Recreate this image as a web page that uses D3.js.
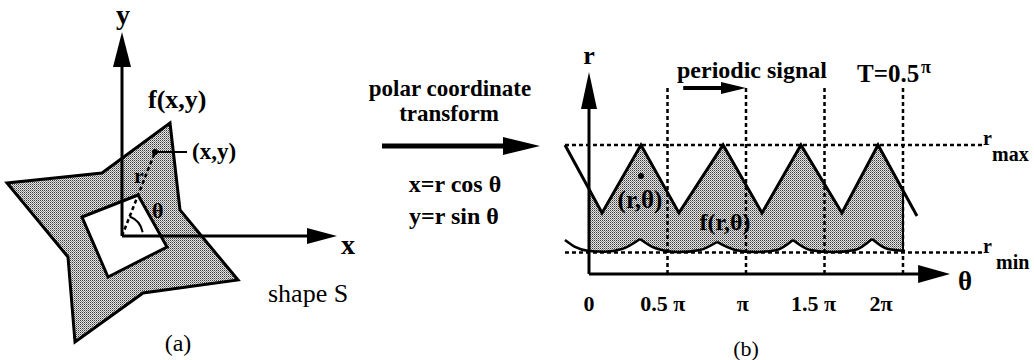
<!DOCTYPE html>
<html><head><meta charset="utf-8">
<script src="https://cdn.jsdelivr.net/npm/d3@7"></script>
<style>
html,body{margin:0;padding:0;background:#fff;}
svg{display:block;font-family:"Liberation Serif","Times New Roman",serif;}
</style>
</head><body>
<svg id="c" width="1034" height="360"></svg>
<script>
// ---------- Panel (a) data: shape S in its own x/y units (origin = centre) ----------
const starX = [48, 58, 116, 21, -47, -54, -115, -20];
const starY = [113, 26, -44, -57, -106, -21, 53, 63];
const holeX = [-40, 16, 45, -14];
const holeY = [19, 41, -11, -41];
const pointX = [33];
const pointY = [84];

// ---------- Panel (b) data: theta in units of pi, r in arbitrary units ----------
const thetaTicks = [0, 0.5, 1, 1.5, 2];
const thetaTickLabels = ["0", "0.5 π", "π", "1.5 π", "2π"];
const thetaLabelAt = [0, 0.47, 0.98, 1.43, 1.86];
const rLevels = [1, 6];               // r_min, r_max
const rLevelNames = ["min", "max"];
const waveTheta = [-0.153, 0.083, 0.331, 0.573, 0.854, 1.102, 1.350, 1.611, 1.841, 2.089];
const waveR     = [6, 2.84, 6, 2.84, 6, 2.84, 6, 2.84, 6, 2.7];
const lowTheta = [-0.153, -0.089, 0, 0.102, 0.21, 0.325, 0.42, 0.567, 0.707, 0.815, 0.93, 1.057, 1.197, 1.299, 1.408, 1.548, 1.694, 1.803, 1.904, 2.013];
const lowR     = [1.58, 1.26, 1.07, 1.04, 1.16, 1.63, 1.21, 1.02, 1.12, 1.49, 1.12, 1.02, 1.12, 1.58, 1.12, 1.02, 1.12, 1.63, 1.16, 1.07];
const samplePoint = [0.331, 4.56];    // (theta, r) of the marked sample

const svg = d3.select("#c");
const INK = "#000";
const defs = svg.append("defs");
// stipple (halftone) fill
const pat = defs.append("pattern").attr("id", "stip").attr("patternUnits", "userSpaceOnUse")
  .attr("width", 2).attr("height", 2);
pat.append("rect").attr("width", 2).attr("height", 2).attr("fill", "#e6e6e6");
pat.append("rect").attr("x", 0).attr("y", 0).attr("width", 1).attr("height", 1).attr("fill", "#3a3a3a");
pat.append("rect").attr("x", 1).attr("y", 1).attr("width", 1).attr("height", 1).attr("fill", "#8a8a8a");
const FILL = "url(#stip)";

function arrowHead(g, tipX, tipY, dirX, dirY, len, half) {
  const bx = tipX - dirX * len, by = tipY - dirY * len;
  const px = -dirY, py = dirX;
  g.append("path")
    .attr("d", `M${tipX},${tipY}L${bx + px * half},${by + py * half}L${bx - px * half},${by - py * half}Z`)
    .attr("fill", INK);
}
function arrow(g, x1, y1, x2, y2, w, len, half) {
  const L = Math.hypot(x2 - x1, y2 - y1), dx = (x2 - x1) / L, dy = (y2 - y1) / L;
  g.append("line").attr("x1", x1).attr("y1", y1)
    .attr("x2", x2 - dx * (len - 2)).attr("y2", y2 - dy * (len - 2))
    .attr("stroke", INK).attr("stroke-width", w);
  arrowHead(g, x2, y2, dx, dy, len, half);
}
function txt(g, x, y, s, size, weight, anchor) {
  return g.append("text").attr("x", x).attr("y", y).text(s)
    .attr("font-size", size).attr("font-weight", weight || "bold")
    .attr("text-anchor", anchor || "start").attr("fill", INK);
}

// ================= Panel (a) =================
const xA = d3.scaleLinear().domain([-120, 215]).range([2, 337]);
const yA = d3.scaleLinear().domain([-110, 204]).range([346, 32]);
const gA = svg.append("g");
const lineA = d3.line().x(d => xA(d[0])).y(d => yA(d[1]));

gA.append("path").attr("d", lineA(starX.map((v, i) => [v, starY[i]])) + "Z")
  .attr("fill", FILL).attr("stroke", INK).attr("stroke-width", 3).attr("stroke-linejoin", "miter");
gA.append("path").attr("d", lineA(holeX.map((v, i) => [v, holeY[i]])) + "Z")
  .attr("fill", "#fff").attr("stroke", INK).attr("stroke-width", 3);

// r line and angle arc
const pAng = Math.atan2(pointY[0], pointX[0]);
gA.append("line").attr("x1", xA(0)).attr("y1", yA(0)).attr("x2", xA(pointX[0])).attr("y2", yA(pointY[0]))
  .attr("stroke", INK).attr("stroke-width", 2.5).attr("stroke-dasharray", "4,3");
const arcR = xA(21) - xA(0);
const arc = d3.arc().innerRadius(arcR).outerRadius(arcR)
  .startAngle(Math.PI / 2 - pAng).endAngle(Math.PI / 2 - 0.18);
gA.append("path").attr("d", arc()).attr("transform", `translate(${xA(0)},${yA(0)})`)
  .attr("fill", "none").attr("stroke", INK).attr("stroke-width", 2);
gA.append("circle").attr("cx", xA(pointX[0])).attr("cy", yA(pointY[0])).attr("r", 3).attr("fill", INK);
gA.append("line").attr("x1", xA(pointX[0])).attr("y1", yA(pointY[0]))
  .attr("x2", xA(pointX[0]) + 32).attr("y2", yA(pointY[0]))
  .attr("stroke", INK).attr("stroke-width", 2);

// axes
arrow(gA, xA(0), yA(0), xA(0), yA(204), 3, 35, 9);
arrow(gA, xA(0), yA(0), xA(215), yA(0), 3, 30, 8);

txt(gA, xA(0) + 1, 24, "y", 28, "bold", "middle");
txt(gA, xA(215) + 4, yA(0) + 18, "x", 28, "bold");
txt(gA, 148, 108, "f(x,y)", 26);
txt(gA, xA(pointX[0]) + 37, yA(pointY[0]) + 7, "(x,y)", 23);
txt(gA, 134, 183, "r", 22);
txt(gA, 152, 218, "θ", 22);
txt(gA, 268, 302, "shape S", 26, "normal");
txt(gA, 178, 351, "(a)", 24, "normal", "middle");

// ================= Middle =================
const gM = svg.append("g");
txt(gM, 450, 96, "polar coordinate", 23, "bold", "middle");
txt(gM, 449, 121, "transform", 23, "bold", "middle");
arrow(gM, 382, 146, 540, 146, 5, 37, 9);
txt(gM, 455, 192, "x=r cos θ", 24, "bold", "middle");
txt(gM, 454, 224, "y=r sin θ", 24, "bold", "middle");

// ================= Panel (b) =================
const xB = d3.scaleLinear().domain([0, 2]).range([589, 903]);
const yB = d3.scaleLinear().domain([0, 6]).range([274, 145]);
const gB = svg.append("g");

const wavePts = waveTheta.map((t, i) => [t, waveR[i]]);
const areaUnderWave = d3.area().x(d => xB(d[0])).y0(yB(0)).y1(d => yB(d[1]));
defs.append("clipPath").attr("id", "underWave").append("path").attr("d", areaUnderWave(wavePts));

// shaded region between wave and lower curve for 0..2pi
gB.append("rect").attr("x", xB(0)).attr("y", yB(rLevels[1]) - 2)
  .attr("width", xB(2) - xB(0)).attr("height", yB(0) - yB(rLevels[1]) + 2)
  .attr("fill", FILL).attr("clip-path", "url(#underWave)");

// split lower curve into scallops at its cusps
const lowPts = lowTheta.map((t, i) => [t, lowR[i]]);
const segs = [];
let cur = [lowPts[0]];
for (let i = 1; i < lowPts.length; i++) {
  cur.push(lowPts[i]);
  const isCusp = i < lowPts.length - 1 && lowPts[i][1] > lowPts[i - 1][1] && lowPts[i][1] > lowPts[i + 1][1];
  if (isCusp) { segs.push(cur); cur = [lowPts[i]]; }
}
segs.push(cur);
const lowArea = d3.area().curve(d3.curveMonotoneX).x(d => xB(d[0])).y0(yB(0)).y1(d => yB(d[1]));
const lowLine = d3.line().curve(d3.curveMonotoneX).x(d => xB(d[0])).y(d => yB(d[1]));
segs.forEach(s => gB.append("path").attr("d", lowArea(s)).attr("fill", "#fff").attr("stroke", "#fff").attr("stroke-width", 1));

// dashed reference lines
rLevels.forEach(r => {
  gB.append("line").attr("x1", xB(-0.153)).attr("x2", xB(2.51)).attr("y1", yB(r)).attr("y2", yB(r))
    .attr("stroke", INK).attr("stroke-width", 2.5).attr("stroke-dasharray", "4,3");
});
thetaTicks.slice(1).forEach(t => {
  gB.append("line").attr("x1", xB(t)).attr("x2", xB(t)).attr("y1", yB(0)).attr("y2", yB(8.7))
    .attr("stroke", INK).attr("stroke-width", 2.5).attr("stroke-dasharray", "4,3");
});
// right edge of the shaded band
gB.append("line").attr("x1", xB(2)).attr("x2", xB(2)).attr("y1", yB(rLevels[1])).attr("y2", yB(rLevels[0]))
  .attr("stroke", INK).attr("stroke-width", 2).attr("clip-path", "url(#underWave)");

// curves
gB.append("path").attr("d", d3.line().x(d => xB(d[0])).y(d => yB(d[1]))(wavePts))
  .attr("fill", "none").attr("stroke", INK).attr("stroke-width", 3).attr("stroke-linejoin", "miter");
segs.forEach(s => gB.append("path").attr("d", lowLine(s)).attr("fill", "none").attr("stroke", INK).attr("stroke-width", 2.5));

// axes
arrow(gB, xB(0), yB(0), xB(0), yB(9.4), 3, 37, 8);
arrow(gB, xB(0), yB(0), xB(2.3), yB(0), 3, 32, 9);

// sample point
gB.append("circle").attr("cx", xB(samplePoint[0])).attr("cy", yB(samplePoint[1])).attr("r", 3).attr("fill", INK);

// labels
txt(gB, xB(0), 64, "r", 26, "bold", "middle");
txt(gB, xB(2.3) + 8, yB(0) + 16, "θ", 27);
thetaTicks.forEach((t, i) => txt(gB, xB(thetaLabelAt[i]), 311, thetaTickLabels[i], 22, "bold", "middle"));
rLevels.forEach((r, i) => {
  txt(gB, xB(2.51), yB(r), "r", 20);
  txt(gB, xB(2.51) + (i ? 9 : 13), yB(r) + 16, rLevelNames[i], 20);
});
txt(gB, xB(samplePoint[0]) - 1, 208, "(r,θ)", 25, "bold", "middle");
txt(gB, 725, 230, "f(r,θ)", 24, "bold", "middle");
txt(gB, 677, 78, "periodic signal", 24);
arrow(gB, xB(0.6), 88, xB(1), 88, 4, 25, 6);
txt(gB, 857, 82, "T=0.5", 25);
txt(gB, 921, 73, "π", 18);
txt(gB, 746, 356, "(b)", 22, "normal", "middle");
</script>
</body></html>
